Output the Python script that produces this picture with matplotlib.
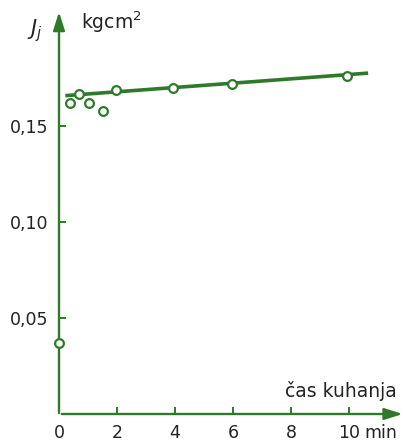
import matplotlib.pyplot as plt

# 数据
cas = [0, 0.38, 0.69, 1.03, 1.52, 1.97, 3.93, 5.97, 9.93]
jj = [0.037, 0.162, 0.1667, 0.162, 0.158, 0.169, 0.170, 0.172, 0.176]
fit_x = [0.28, 10.6]
fit_y = [0.166, 0.1776]
x_ticks = [0, 2, 4, 6, 8, 10]
y_ticks = [0.05, 0.10, 0.15]
y_labels = ['0,05', '0,10', '0,15']

green = '#2f7a2a'
txt = '#222222'

fig = plt.figure(figsize=(4.06, 4.41), dpi=100)
ax = fig.add_axes([59 / 406, 27 / 441, 345 / 406, 401 / 441])
ax.set_xlim(0, 11.9)
ax.set_ylim(0, 0.209)
for s in ax.spines.values():
    s.set_visible(False)

# 坐标轴箭头
arrow = dict(arrowstyle='-|>,head_length=1.1,head_width=0.35', color=green, lw=1.7)
ax.annotate('', xy=(11.95, 0), xytext=(0, 0), arrowprops=arrow, annotation_clip=False)
ax.annotate('', xy=(0, 0.211), xytext=(0, 0), arrowprops=arrow, annotation_clip=False)

ax.plot(fit_x, fit_y, color=green, lw=2.6)
ax.plot(cas, jj, 'o', mfc='white', mec=green, mew=1.6, ms=6.3, clip_on=False, zorder=5)

ax.set_xticks(x_ticks)
ax.set_xticklabels([str(t) for t in x_ticks])
ax.set_yticks(y_ticks)
ax.set_yticklabels(y_labels)
ax.tick_params(direction='in', color=green, width=1.4, length=5, labelsize=12.5,
               labelcolor=txt)
ax.tick_params(axis='x', pad=7)
ax.tick_params(axis='y', pad=8)

ax.annotate('min', xy=(10.52, 0), xycoords=('data', 'axes fraction'),
            xytext=(0, -7), textcoords='offset points',
            fontsize=12.5, color=txt, va='top', ha='left', annotation_clip=False)
ax.text(11.65, 0.009, 'čas kuhanja', fontsize=13.5, color=txt, ha='right', va='baseline')
ax.text(-0.55, 0.2, '$J_j$', fontsize=15, color=txt, ha='right', va='center')
ax.text(0.75, 0.204, 'kgcm$^2$', fontsize=13.5, color=txt, ha='left', va='center')

plt.savefig('out.png', dpi=100)
